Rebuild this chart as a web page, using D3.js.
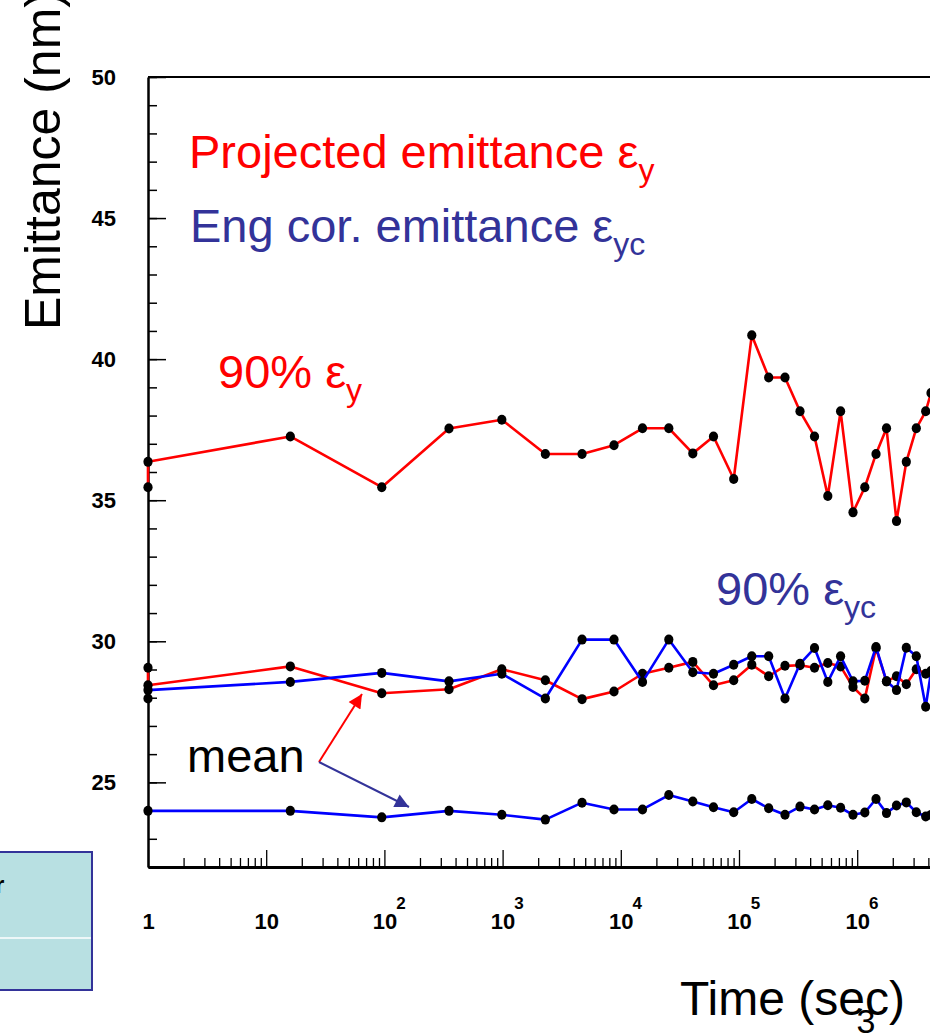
<!DOCTYPE html>
<html>
<head>
<meta charset="utf-8">
<script src="https://cdn.jsdelivr.net/npm/d3@7"></script>
<style>
  html, body { margin: 0; padding: 0; background: #fff; }
  svg { display: block; font-family: "Liberation Sans", Arial, Helvetica, sans-serif; }
</style>
</head>
<body>
<svg id="chart" width="930" height="1034"></svg>
<script>
// Measurement times (s); the first two samples are both taken at t = 1 s
const times = [1, 1, 16, 95, 352, 985, 2300, 4700, 8760, 15260, 25480, 40660, 60850, 90210,
  128300, 178300, 245000, 328100, 435400, 564000, 723600, 921500, 1160000, 1443000,
  1770000, 2150000, 2603000, 3162000, 3797000, 4210000];

// 90% projected emittance (nm)
const eps90 = [35.46, 36.36, 37.26, 35.46, 37.54, 37.85, 36.64, 36.64, 36.95, 37.55, 37.55,
  36.66, 37.26, 35.75, 40.85, 39.35, 39.35, 38.15, 37.26, 35.15, 38.15, 34.57, 35.46,
  36.64, 37.55, 34.26, 36.36, 37.55, 38.15, 38.8];

// mean projected emittance (nm)
const epsMean = [29.06, 28.44, 29.11, 28.16, 28.30, 29.01, 28.62, 27.95, 28.22, 28.85, 29.06,
  29.27, 28.44, 28.62, 29.17, 28.76, 29.13, 29.15, 29.06, 29.23, 29.11, 28.38, 27.97,
  29.75, 28.58, 28.76, 28.48, 29.01, 28.85, 28.95];

// 90% energy-corrected emittance (nm)
const eps90c = [27.97, 28.27, 28.56, 28.88, 28.58, 28.85, 27.97, 30.06, 30.06, 28.56, 30.06,
  28.90, 28.85, 29.17, 29.47, 29.47, 27.97, 29.20, 29.76, 28.56, 29.47, 28.58, 28.60,
  29.80, 28.58, 28.27, 29.77, 29.47, 27.68, 28.90];

// mean energy-corrected emittance (nm); single sample at t = 1 s
const epsMeanC = [null, 23.99, 23.99, 23.76, 23.99, 23.85, 23.68, 24.28, 24.04, 24.04, 24.55,
  24.32, 24.12, 23.94, 24.41, 24.08, 23.85, 24.14, 24.04, 24.19, 24.10, 23.85, 23.93,
  24.41, 23.91, 24.18, 24.29, 23.94, 23.79, 23.85];

const yMajorTicks = [25, 30, 35, 40, 45, 50];
const xMajorTicks = [1, 10, 1e2, 1e3, 1e4, 1e5, 1e6];

const RED = "#ff0000", BLUE = "#0000ff", INK = "#333399";

const svg = d3.select("#chart");
const plotLeft = 148, plotTop = 77, plotBottom = 867, decade = 118.2;

const x = d3.scaleLog().domain([1, 1e7]).range([plotLeft, plotLeft + 7 * decade]);
const y = d3.scaleLinear().domain([22, 50]).range([plotBottom, plotTop]);

// ---- side panel fragment at the lower left
svg.append("rect").attr("x", -3).attr("y", 852).attr("width", 95).attr("height", 138)
  .attr("fill", "#b8e0e2").attr("stroke", INK).attr("stroke-width", 2);
svg.append("line").attr("x1", 0).attr("x2", 91).attr("y1", 938).attr("y2", 938)
  .attr("stroke", "#fff").attr("stroke-width", 1.5);
svg.append("text").attr("x", -5).attr("y", 893).attr("font-size", 24).attr("font-weight", "bold")
  .text("r");

// ---- frame
svg.append("line").attr("x1", plotLeft).attr("x2", 930).attr("y1", plotTop).attr("y2", plotTop)
  .attr("stroke", "#000").attr("stroke-width", 2);

// ---- y axis (ticks pointing into the plot)
const yMinor = d3.range(22, 51, 1);
svg.append("g").attr("transform", `translate(${plotLeft},0)`)
  .call(d3.axisLeft(y).tickValues(yMinor).tickSizeInner(-9).tickSizeOuter(0).tickFormat(""))
  .call(g => g.select(".domain").attr("stroke-width", 2.5))
  .call(g => g.selectAll(".tick line").attr("stroke-width", 1.5));

svg.append("g").attr("transform", `translate(${plotLeft},0)`)
  .call(d3.axisLeft(y).tickValues(yMajorTicks).tickSizeInner(-18).tickSizeOuter(0).tickPadding(32))
  .call(g => g.select(".domain").remove())
  .call(g => g.selectAll(".tick line").attr("stroke-width", 1.5))
  .call(g => g.selectAll(".tick text")
    .attr("font-family", "'Liberation Sans', Arial, sans-serif")
    .attr("font-size", 22).attr("font-weight", "bold").attr("fill", "#000"));

// ---- x axis (log, ticks pointing up)
const xMinor = [];
for (let e = 0; e < 7; e++) for (let m = 2; m <= 9; m++) xMinor.push(m * Math.pow(10, e));

svg.append("g").attr("transform", `translate(0,${plotBottom})`)
  .call(d3.axisBottom(x).tickValues(xMinor).tickSizeInner(-9).tickSizeOuter(0).tickFormat(""))
  .call(g => g.select(".domain").attr("stroke-width", 3))
  .call(g => g.selectAll(".tick line").attr("stroke-width", 1.3));

const xAxisMajor = svg.append("g").attr("transform", `translate(0,${plotBottom})`)
  .call(d3.axisBottom(x).tickValues(xMajorTicks).tickSizeInner(-17).tickSizeOuter(0).tickPadding(0).tickFormat(""))
  .call(g => g.select(".domain").remove())
  .call(g => g.selectAll(".tick line").attr("stroke-width", 1.3));

// decade labels: mantissa centred on the tick, exponent raised to its right
xAxisMajor.selectAll(".tick").each(function (d) {
  const e = Math.round(Math.log10(d));
  const g = d3.select(this);
  g.append("text")
    .attr("y", 62).attr("fill", "#000").attr("text-anchor", "middle")
    .attr("font-size", 22).attr("font-weight", "bold")
    .text(e === 0 ? "1" : "10");
  if (e >= 2) {
    g.append("text")
      .attr("x", 16).attr("y", 42).attr("fill", "#000")
      .attr("font-size", 17).attr("font-weight", "bold")
      .text(e);
  }
});

// ---- series
const series = [
  { values: eps90, color: RED },
  { values: epsMean, color: RED },
  { values: eps90c, color: BLUE },
  { values: epsMeanC, color: BLUE }
];

const line = d3.line()
  .defined(d => d.v !== null)
  .x(d => x(d.t))
  .y(d => y(d.v));

series.forEach(s => {
  const pts = times.map((t, i) => ({ t, v: s.values[i] }));
  svg.append("path").datum(pts)
    .attr("d", line).attr("fill", "none")
    .attr("stroke", s.color).attr("stroke-width", 2.6).attr("stroke-linejoin", "round");
  svg.append("g").selectAll("ellipse")
    .data(pts.filter(d => d.v !== null))
    .join("ellipse")
    .attr("cx", d => x(d.t)).attr("cy", d => y(d.v))
    .attr("rx", 4.6).attr("ry", 5).attr("fill", "#000");
});

// ---- annotations
function label(xp, yp, color, main, sub) {
  const t = svg.append("text").attr("x", xp).attr("y", yp).attr("fill", color).attr("font-size", 47);
  t.append("tspan").text(main);
  if (sub) t.append("tspan").attr("dy", 13).attr("font-size", 32).text(sub);
  return t;
}
label(189, 168, RED, "Projected emittance \u03b5", "y");
label(190, 242, INK, "Eng cor. emittance \u03b5", "yc");
label(218, 388, RED, "90% \u03b5", "y");
label(716, 605, INK, "90% \u03b5", "yc");
label(187, 772, "#000", "mean", null);

// arrows from the "mean" label
const defs = svg.append("defs");
[["headRed", RED], ["headInk", INK]].forEach(([id, c]) => {
  defs.append("marker").attr("id", id).attr("viewBox", "0 0 10 10")
    .attr("refX", 10).attr("refY", 5).attr("markerWidth", 16).attr("markerHeight", 14)
    .attr("markerUnits", "userSpaceOnUse").attr("orient", "auto")
    .append("path").attr("d", "M0,0 L10,5 L0,10 Z").attr("fill", c);
});
svg.append("line").attr("x1", 319).attr("y1", 762).attr("x2", 362).attr("y2", 694)
  .attr("stroke", RED).attr("stroke-width", 2).attr("marker-end", "url(#headRed)");
svg.append("line").attr("x1", 319).attr("y1", 762).attr("x2", 409).attr("y2", 807)
  .attr("stroke", INK).attr("stroke-width", 2).attr("marker-end", "url(#headInk)");

// ---- axis titles
svg.append("text").attr("transform", "translate(60,330) rotate(-90)")
  .attr("font-size", 50).attr("fill", "#000").text("Emittance (nm)");
svg.append("text").attr("x", 680).attr("y", 1015)
  .attr("font-size", 48).attr("fill", "#000").text("Time (sec)");
svg.append("text").attr("x", 866).attr("y", 1033).attr("text-anchor", "middle")
  .attr("font-size", 34).attr("fill", "#000").text("3");
</script>
</body>
</html>
